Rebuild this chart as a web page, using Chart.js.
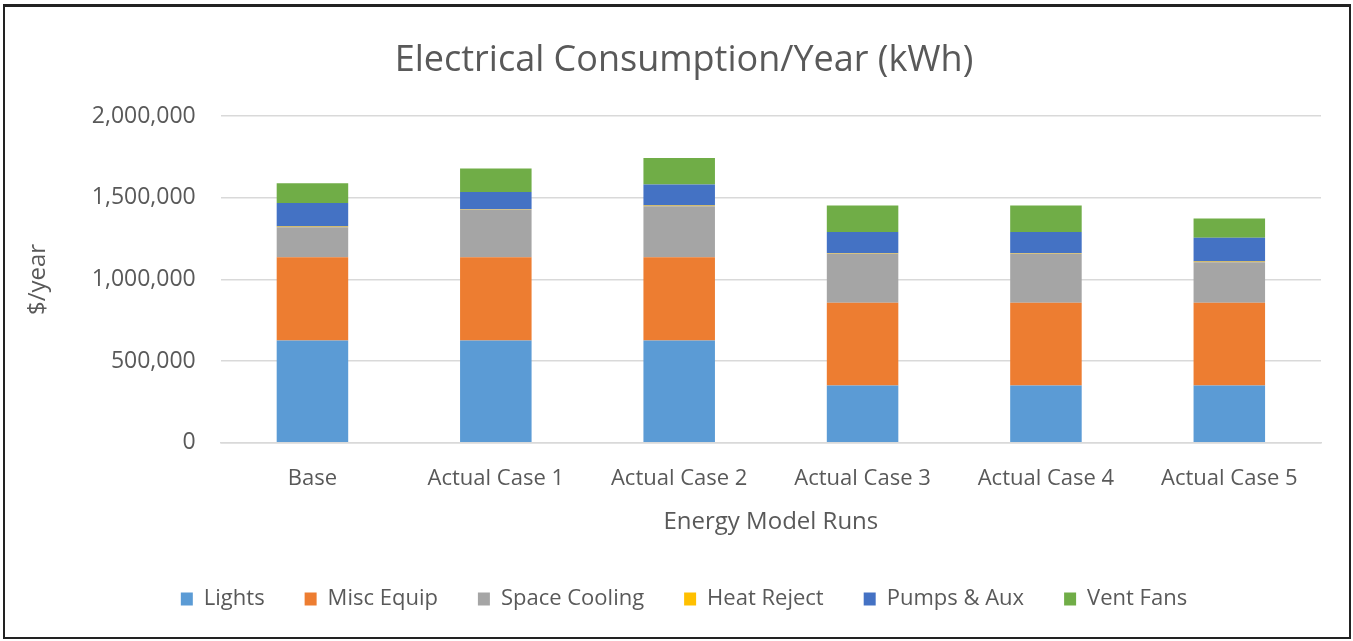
<!DOCTYPE html>
<html>
<head>
<meta charset="utf-8">
<script src="https://cdn.jsdelivr.net/npm/chart.js@4/dist/chart.umd.min.js"></script>
<style>
  html, body { margin:0; padding:0; background:#fff; }
  #wrap { position:relative; width:1353px; height:641px; }
  #frame { position:absolute; left:3px; top:4px; width:1344px; height:630px; border:2px solid #222; border-top-width:3px; box-sizing:content-box; pointer-events:none; }
  canvas { position:absolute; left:0; top:0; }
</style>
</head>
<body>
<div id="wrap">
  <canvas id="elecChart" width="1353" height="641"></canvas>
  <div id="frame"></div>
</div>
<script>
// categories + stacked series (kWh)
const runs        = ['Base', 'Actual Case 1', 'Actual Case 2', 'Actual Case 3', 'Actual Case 4', 'Actual Case 5'];
const lights      = [627000, 627000, 627000, 351000, 351000, 351000];
const miscEquip   = [509000, 509000, 509000, 506000, 506000, 506000];
const spaceCool   = [184000, 292000, 313000, 300000, 300000, 249000];
const heatReject  = [4000, 4000, 4000, 4000, 4000, 4000];
const pumpsAux    = [145000, 104000, 128000, 130000, 130000, 145000];
const ventFans    = [120000, 143000, 163000, 162000, 162000, 118000];
const yTicks      = [0, 500000, 1000000, 1500000, 2000000];

const FONT = '"Open Sans", Lato, sans-serif';
const TXT  = '#595959';

const mk = (label, data, color) => ({
  label, data, backgroundColor: color, borderWidth: 0,
  barPercentage: 0.39, categoryPercentage: 1.0, stack: 's'
});

new Chart(document.getElementById('elecChart').getContext('2d'), {
  type: 'bar',
  data: {
    labels: runs,
    datasets: [
      mk('Lights',        lights,     '#5b9bd5'),
      mk('Misc Equip',    miscEquip,  '#ed7d31'),
      mk('Space Cooling', spaceCool,  '#a5a5a5'),
      mk('Heat Reject',   heatReject, '#ffc000'),
      mk('Pumps & Aux',   pumpsAux,   '#4472c4'),
      mk('Vent Fans',     ventFans,   '#70ad47'),
    ]
  },
  options: {
    responsive: false,
    animation: false,
    layout: { padding: { left: 47, right: 32, top: 20, bottom: 21 } },
    scales: {
      x: {
        stacked: true,
        grid: { display: false },
        border: { color: '#d9d9d9', width: 1.5 },
        ticks: { color: TXT, font: { family: FONT, size: 22 }, padding: 15 },
        title: { display: true, text: 'Energy Model Runs', color: TXT, font: { family: FONT, size: 24 }, padding: { top: 1, bottom: 11 } }
      },
      y: {
        stacked: true,
        min: 0, max: 2000000,
        afterBuildTicks: axis => { axis.ticks = yTicks.map(v => ({ value: v })); },
        grid: { color: '#d9d9d9', lineWidth: 1.5, drawTicks: false },
        border: { display: false },
        ticks: { color: TXT, font: { family: FONT, size: 23 }, padding: 25,
                 callback: v => v.toLocaleString('en-US') },
        title: { display: true, text: '$/year', color: TXT, font: { family: FONT, size: 24 }, padding: { top: -23, bottom: 14 } }
      }
    },
    plugins: {
      title: { display: true, text: 'Electrical Consumption/Year (kWh)', color: TXT,
               font: { family: FONT, size: 36, weight: 'normal' }, padding: { top: 19, bottom: 34 } },
      legend: { position: 'bottom',
                labels: { color: TXT, font: { family: FONT, size: 22 }, boxWidth: 12, boxHeight: 13, padding: 40 } },
      tooltip: { enabled: false }
    }
  }
});
</script>
</body>
</html>
